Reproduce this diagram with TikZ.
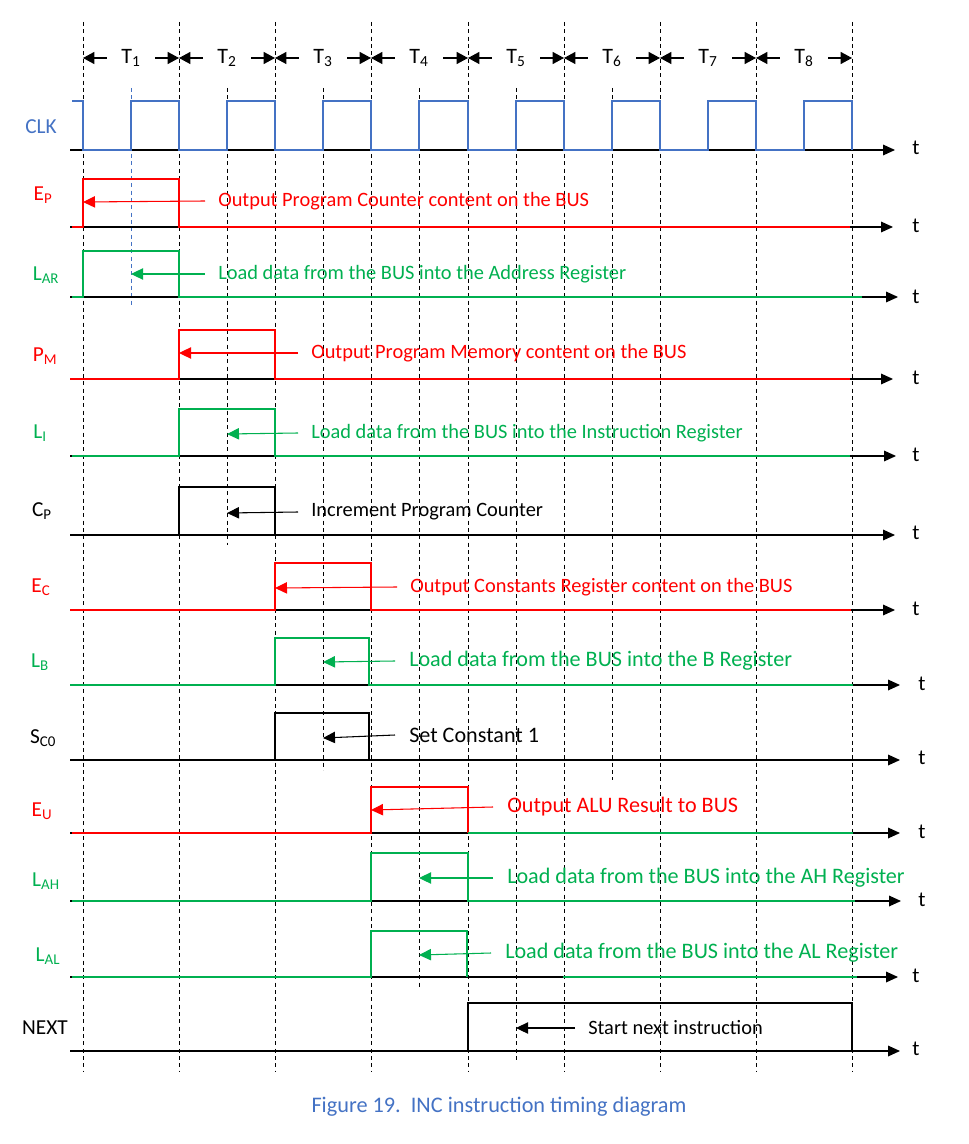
\documentclass[tikz,border=0pt]{standalone}
\usepackage{fontspec}
\setmainfont{Carlito}
\usetikzlibrary{arrows.meta}
\definecolor{sigred}{HTML}{FF0000}
\definecolor{siggreen}{HTML}{00B050}
\definecolor{sigblue}{HTML}{4472C4}
\begin{document}
\begin{tikzpicture}[x=0.75pt,y=-0.75pt,
  axisline/.style={line width=0.9pt,-{Triangle[length=9pt,width=8pt]}},
  sig/.style={line width=2.2pt,line join=miter},
  clk/.style={line width=1.9pt,color=sigblue,line join=miter},
  grid/.style={line width=0.75pt,dash pattern=on 3pt off 2.5pt},
  pointer/.style={line width=0.8pt,-{Triangle[length=9pt,width=8.5pt]}},
  tick/.style={line width=0.8pt,-{Triangle[length=8.5pt,width=9pt]}},
  lbl/.style={font=\fontsize{16}{18}\selectfont,inner sep=0pt},
  ann/.style={font=\fontsize{15.3}{18}\selectfont,anchor=west,inner xsep=9.75pt,inner ysep=0pt},
  annL/.style={font=\fontsize{16.6}{19}\selectfont,anchor=west,inner xsep=10.5pt,inner ysep=0pt},
  tlbl/.style={font=\fontsize{16}{18}\selectfont,inner sep=0pt},
  per/.style={font=\fontsize{16.5}{18}\selectfont,inner sep=0pt,minimum width=36pt,minimum height=10pt}
]
\useasboundingbox (0,0) rectangle (968,1144);

% boundary coordinates
\foreach \n/\x in {0/83,1/179,2/275,3/371,4/468,5/564,6/660,7/756,8/852}{
  \coordinate (bt\n) at (\x,22);
  \coordinate (bb\n) at (\x,1072);
}
% grid lines
\foreach \n in {0,...,8}{ \draw[grid] (bt\n) -- (bb\n); }
\coordinate (m1t) at (131,88);  \coordinate (m1b) at (131,305);
\coordinate (m2t) at (227,88);  \coordinate (m2b) at (227,545);
\coordinate (m3t) at (323,88);  \coordinate (m3b) at (323,770);
\coordinate (m4t) at (419,88);  \coordinate (m4b) at (419,988);
\coordinate (m5t) at (516,88);  \coordinate (m5b) at (516,1060);
\coordinate (m6t) at (612,88);  \coordinate (m6b) at (612,780);
\draw[grid,sigblue] (m1t) -- (m1b);
\foreach \n in {2,...,6}{ \draw[grid] (m\n t) -- (m\n b); }

% period labels
\foreach \n/\x in {1/131,2/227,3/323,4/419,5/516,6/612,7/708,8/804}{
  \node[per] (T\n) at (\x,58) {T\textsubscript{\n}};
}
\foreach \n [evaluate=\n as \p using int(\n-1)] in {1,...,8}{
  \coordinate (ta\p) at (bt\p |- T\n);
  \coordinate (tb\n) at (bt\n |- T\n);
  \draw[tick] (T\n.west) -- (ta\p);
  \draw[tick] (T\n.east) -- (tb\n);
}

% axes
\foreach \n/\y/\e in {clk/150/895,ep/227/893,lar/297/898,pm/379/893,li/456/896,cp/535/895,ec/610/895,lb/685/900,sc/760/900,eu/833/900,lah/901/901,lal/977/898,nx/1051/900}{
  \coordinate (a\n s) at (70,\y);
  \coordinate (a\n e) at (\e,\y);
  \draw[axisline] (a\n s) -- (a\n e);
}
% t labels
\foreach \n/\x/\y in {clk/916/148,ep/916/226,lar/916/297,pm/916/378,li/916/455,cp/916/533,ec/916/609,lb/922/684,sc/922/758,eu/922/832,lah/922/900,lal/916/976,nx/916/1049}{
  \node[tlbl] (t\n) at (\x,\y) {t};
}

% waveforms
\draw[clk] (72,101) -- (83,101) -- (83,150) -- (131,150) -- (131,101) -- (179,101) -- (179,150) -- (227,150) -- (227,101) -- (275,101) -- (275,150) -- (323,150) -- (323,101) -- (371,101) -- (371,150) -- (419,150) -- (419,101) -- (468,101) -- (468,150) -- (516,150) -- (516,101) -- (564,101) -- (564,150) -- (612,150) -- (612,101) -- (660,101) -- (660,150) -- (708,150) -- (708,101) -- (756,101) -- (756,150) -- (804,150) -- (804,101) -- (852,101) -- (852,150);
\draw[sig,sigred] (72,227) -- (83,227) -- (83,179) -- (179,179) -- (179,227) -- (850,227);
\draw[sig,siggreen] (72,297) -- (83,297) -- (83,251) -- (179,251) -- (179,297) -- (862,297);
\draw[sig,sigred] (70,379) -- (179,379) -- (179,330) -- (275,330) -- (275,379) -- (850,379);
\draw[sig,siggreen] (72,456) -- (179,456) -- (179,409) -- (275,409) -- (275,456) -- (850,456);
\draw[sig,black] (72,535) -- (179,535) -- (179,487) -- (275,487) -- (275,535) -- (851,535);
\draw[sig,sigred] (70,610) -- (275,610) -- (275,563) -- (371,563) -- (371,610) -- (851,610);
\draw[sig,siggreen] (70,685) -- (275,685) -- (275,638) -- (369,638) -- (369,685) -- (853,685);
\draw[sig,black] (70,760) -- (275,760) -- (275,713) -- (369,713) -- (369,760) -- (853,760);
\draw[sig,sigred] (72,833) -- (371,833) -- (371,787) -- (468,787) -- (468,833);
\draw[sig,siggreen] (468,833) -- (853,833);
\draw[sig,siggreen] (72,901) -- (371,901) -- (371,853) -- (468,853) -- (468,901) -- (855,901);
\draw[sig,siggreen] (72,977) -- (371,977) -- (371,931) -- (467,931) -- (467,977);
\draw[sig,siggreen] (563,977) -- (857,977);
\draw[sig,black] (72,1051) -- (468,1051) -- (468,1003) -- (852,1003) -- (852,1051);

% signal names
\node[lbl,sigblue] (nclk) at (41,127) {CLK};
\node[lbl,sigred] (nep) at (43,195) {E\textsubscript{P}};
\node[lbl,siggreen] (nlar) at (46,275) {L\textsubscript{AR}};
\node[lbl,sigred] (npm) at (45,356) {P\textsubscript{M}};
\node[lbl,siggreen] (nli) at (40,433) {L\textsubscript{I}};
\node[lbl,black] (ncp) at (42,511) {C\textsubscript{P}};
\node[lbl,sigred] (nec) at (41,587) {E\textsubscript{C}};
\node[lbl,siggreen] (nlb) at (40,662) {L\textsubscript{B}};
\node[lbl,black] (nsc) at (43,738) {S\textsubscript{C0}};
\node[lbl,sigred] (neu) at (42,811) {E\textsubscript{U}};
\node[lbl,siggreen] (nlah) at (46,881) {L\textsubscript{AH}};
\node[lbl,siggreen] (nlal) at (48,956) {L\textsubscript{AL}};
\node[lbl,black] (nnx) at (45,1028) {NEXT};

% annotations
\coordinate (pep) at (83,202);
\node[ann,sigred] (tep) at (205,201) {Output Program Counter content on the BUS};
\draw[pointer,sigred] (tep.west) -- (pep);
\coordinate (plar) at (131,274);
\node[ann,siggreen] (tlar) at (205,274) {Load data from the BUS into the Address Register};
\draw[pointer,siggreen] (tlar.west) -- (plar);
\coordinate (ppm) at (179,353);
\node[ann,sigred] (tpm) at (298,353) {Output Program Memory content on the BUS};
\draw[pointer,sigred] (tpm.west) -- (ppm);
\coordinate (pli) at (227,434);
\node[ann,siggreen] (tli) at (298,433) {Load data from the BUS into the Instruction Register};
\draw[pointer,siggreen] (tli.west) -- (pli);
\coordinate (pcp) at (227,513);
\node[ann,black] (tcp) at (298,512) {Increment Program Counter};
\draw[pointer,black] (tcp.west) -- (pcp);
\coordinate (pec) at (275,588);
\node[ann,sigred] (tec) at (397,587) {Output Constants Register content on the BUS};
\draw[pointer,sigred] (tec.west) -- (pec);
\coordinate (plb) at (323,662);
\node[annL,siggreen] (tlb) at (395,661) {Load data from the BUS into the B Register};
\draw[pointer,siggreen] (tlb.west) -- (plb);
\coordinate (psc) at (323,738);
\node[annL,black] (tsc) at (395,735) {Set Constant 1};
\draw[pointer,black] (tsc.west) -- (psc);
\coordinate (peu) at (371,810);
\node[annL,sigred] (teu) at (493,807) {Output ALU Result to BUS};
\draw[pointer,sigred] (teu.west) -- (peu);
\coordinate (plah) at (419,878);
\node[annL,siggreen] (tlah) at (493,878) {Load data from the BUS into the AH Register};
\draw[pointer,siggreen] (tlah.west) -- (plah);
\coordinate (plal) at (419,955);
\node[annL,siggreen] (tlal) at (491,953) {Load data from the BUS into the AL Register};
\draw[pointer,siggreen] (tlal.west) -- (plal);
\coordinate (pnx) at (516,1028);
\node[ann,black] (tnx) at (575,1028) {Start next instruction};
\draw[pointer,black] (tnx.west) -- (pnx);

% caption
\node[font=\fontsize{16.7}{19}\selectfont,text=sigblue,inner sep=0pt] (cap) at (499,1107) {Figure 19.\ \ INC instruction timing diagram};
\end{tikzpicture}
\end{document}
